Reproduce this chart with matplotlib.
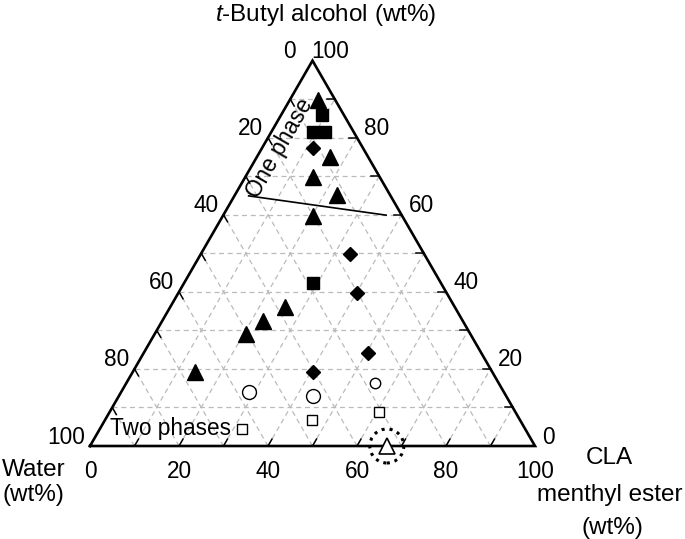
import matplotlib
matplotlib.use('Agg')
import matplotlib.pyplot as plt
import numpy as np
from matplotlib.patches import Circle

plt.rcParams['font.family'] = 'Liberation Sans'
plt.rcParams['mathtext.fontset'] = 'custom'
plt.rcParams['mathtext.rm'] = 'Liberation Sans'
plt.rcParams['mathtext.it'] = 'Liberation Sans:italic'

# compositions as (CLA menthyl ester wt%, t-butyl alcohol wt%); water is the rest
tri_filled_cla = [6.4, 16.4, 15.2, 22.9, 20.1, 25.8, 22.7, 20.6, 14.0]
tri_filled_tba = [89.8, 75.1, 69.9, 65.1, 59.8, 36.1, 32.5, 29.0, 19.1]
sq_filled_cla = [9.1, 9.3, 12.0, 28.8]
sq_filled_tba = [85.9, 81.6, 81.6, 42.4]
diamond_cla = [11.3, 33.6, 40.2, 50.3, 40.4]
diamond_tba = [77.4, 49.7, 39.8, 24.2, 19.3]
circle_cla = [28.7, 43.5]
circle_tba = [13.9, 13.1]
small_circle_cla = [55.8]
small_circle_tba = [16.3]
sq_open_cla = [32.0, 46.6, 60.4]
sq_open_tba = [4.3, 6.7, 8.9]
tri_open_cla = [66.7]
tri_open_tba = [0.0]
boundary_cla = [3.2, 36.6]
boundary_tba = [64.9, 59.9]

ticks = np.arange(10, 100, 10)
labels = [0, 20, 40, 60, 80, 100]

H = np.sqrt(3) / 2
S = 4.45  # pixels per data unit


def xy(cla, tba):
    cla = np.asarray(cla, dtype=float)
    tba = np.asarray(tba, dtype=float)
    return cla + tba / 2, tba * H


def px(dx, dy):
    # pixel offset (y down) -> data offset
    return dx / S, -dy / S


fig = plt.figure(figsize=(6.85, 5.39), dpi=100)
ax = fig.add_axes([0, 0, 1, 1])
ax.set_xlim(-90 / S, (685 - 90) / S)
ax.set_ylim((446 - 539) / S, 446 / S)
ax.axis('off')

# grid
for v in ticks:
    # constant t-butyl alcohol
    x, y = xy([0, 100 - v], [v, v])
    ax.plot(x, y, color='#bbbbbb', lw=0.9, ls=(0, (4, 3)), zorder=1)
    # constant CLA
    x, y = xy([v, v], [0, 100 - v])
    ax.plot(x, y, color='#bbbbbb', lw=0.9, ls=(0, (4, 3)), zorder=1)
    # constant water
    x, y = xy([100 - v, 0], [0, 100 - v])
    ax.plot(x, y, color='#bbbbbb', lw=0.9, ls=(0, (4, 3)), zorder=1)

# triangle frame
x, y = xy([0, 100, 0, 0], [0, 0, 100, 0])
ax.plot(x, y, color='black', lw=1.9, zorder=3, solid_joinstyle='miter')

# ticks
tl = 8 / S
for v in ticks:
    # bottom axis (CLA), ticks along constant-CLA lines
    x0, y0 = xy(v, 0)
    ax.plot([x0, x0 + tl * 0.5], [y0, y0 + tl * H], color='black', lw=1.1, zorder=3)
    # right axis (t-butyl alcohol), horizontal ticks
    x0, y0 = xy(100 - v, v)
    ax.plot([x0, x0 - tl], [y0, y0], color='black', lw=1.1, zorder=3)
    # left axis (water), ticks along constant-water lines
    x0, y0 = xy(0, 100 - v)
    ax.plot([x0, x0 + tl * 0.5], [y0, y0 - tl * H], color='black', lw=1.1, zorder=3)

fs = 16.3
fs_name = 17.5
for v in labels:
    # bottom
    x0, y0 = xy(v, 0)
    dx, dy = px(0, 25)
    ax.text(x0 + dx, y0 + dy, str(v), fontsize=fs, ha='center', va='center')
    # right (t-butyl alcohol)
    x0, y0 = xy(100 - v, v)
    dx, dy = px(-1 if v == 100 else 7, -9)
    ax.text(x0 + dx, y0 + dy, str(v), fontsize=fs, ha='left', va='center')
    # left (water)
    x0, y0 = xy(0, 100 - v)
    dx, dy = px(-17 if v == 0 else -5, -9)
    ax.text(x0 + dx, y0 + dy, str(v), fontsize=fs, ha='right', va='center')

# data
ms = dict(linestyle='none', zorder=5)
x, y = xy(tri_filled_cla, tri_filled_tba)
ax.plot(x, y, marker='^', ms=11.5, color='black', **ms)
x, y = xy(sq_filled_cla, sq_filled_tba)
ax.plot(x, y, marker='s', ms=9.3, color='black', **ms)
x, y = xy(diamond_cla, diamond_tba)
ax.plot(x, y, marker='D', ms=7.2, color='black', **ms)
x, y = xy(circle_cla, circle_tba)
ax.plot(x, y, marker='o', ms=10, mfc='white', mec='black', mew=1.0, **ms)
x, y = xy(small_circle_cla, small_circle_tba)
ax.plot(x, y, marker='o', ms=7.5, mfc='white', mec='black', mew=1.0, **ms)
x, y = xy(sq_open_cla, sq_open_tba)
ax.plot(x, y, marker='s', ms=7.8, mfc='white', mec='black', mew=1.0, **ms)
x, y = xy(tri_open_cla, tri_open_tba)
ax.plot(x, y, marker='^', ms=11.5, mfc='white', mec='black', mew=1.2, **ms)
ax.add_patch(Circle((x[0], y[0]), 17 / S, fill=False, ls=(0, (1, 1.6)),
                    lw=2.2, color='black', zorder=6))

# phase boundary
x, y = xy(boundary_cla, boundary_tba)
ax.plot(x, y, color='black', lw=1.2, zorder=4)


def at(pxx, pyy):
    return (pxx - 90) / S, (446 - pyy) / S


ax.text(*at(280, 148), 'One phase', fontsize=fs, rotation=60,
        ha='center', va='center', rotation_mode='anchor')
ax.text(*at(171, 428), 'Two phases', fontsize=fs, ha='center', va='center')

ax.text(*at(326, 15), r'$\mathit{t}$-Butyl alcohol (wt%)', fontsize=fs_name,
        ha='center', va='center')
ax.text(*at(2, 470), 'Water', fontsize=fs_name, ha='left', va='center')
ax.text(*at(3, 495), '(wt%)', fontsize=fs_name, ha='left', va='center')
ax.text(*at(609, 458), 'CLA', fontsize=fs_name, ha='center', va='center')
ax.text(*at(610, 495), 'menthyl ester', fontsize=fs_name, ha='center', va='center')
ax.text(*at(612, 528), '(wt%)', fontsize=fs_name, ha='center', va='center')

fig.savefig('out.png', dpi=100)
